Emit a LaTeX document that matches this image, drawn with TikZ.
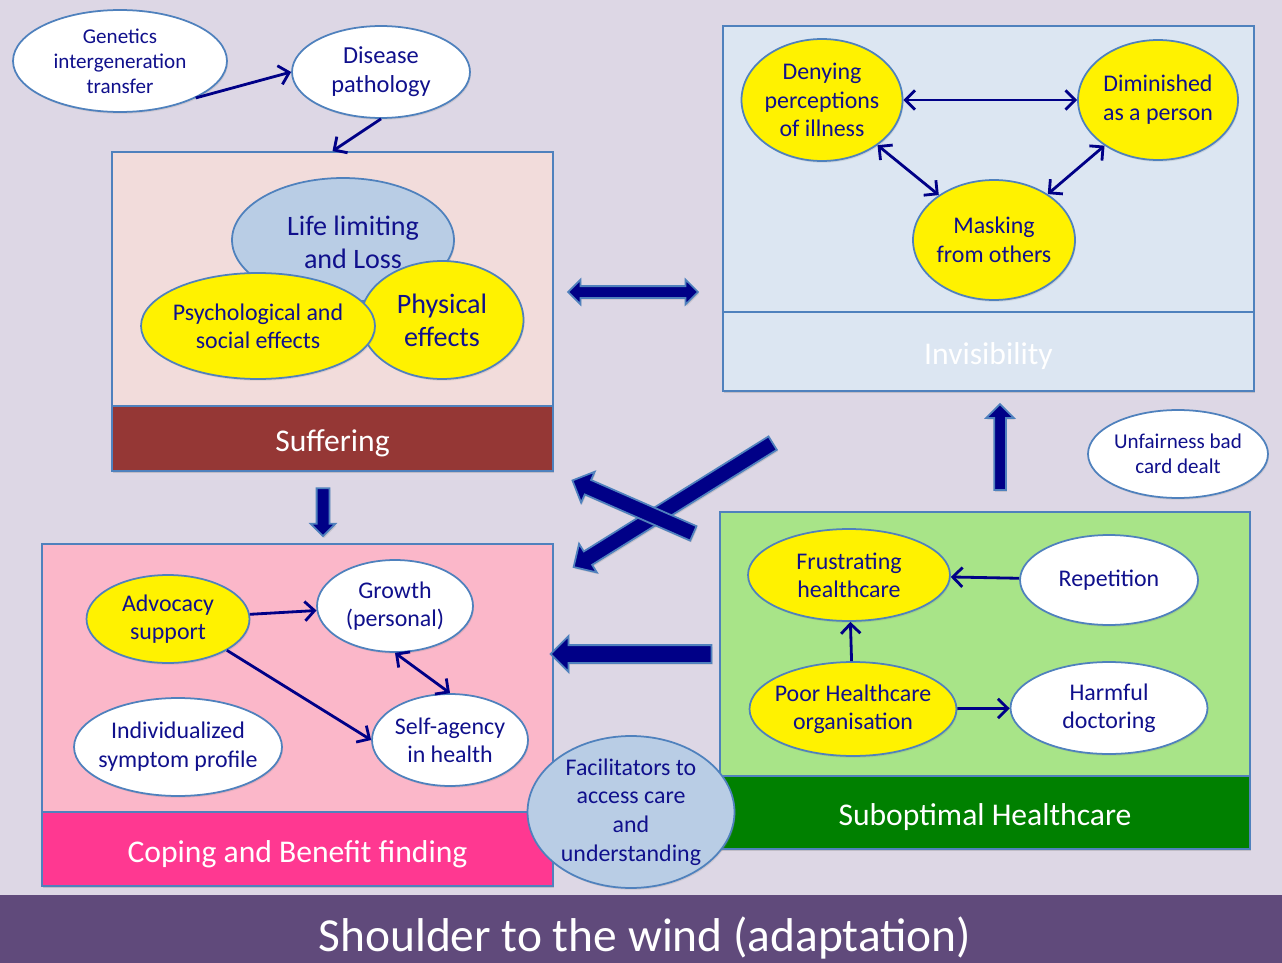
\documentclass[tikz,border=0pt]{standalone}
\usepackage{fontspec}
\setmainfont{Carlito}
\usetikzlibrary{arrows.meta,shapes.geometric,shapes.arrows,shadows}
\definecolor{bgcol}{RGB}{221,215,229}
\definecolor{bannercol}{RGB}{96,74,123}
\definecolor{suffup}{RGB}{242,220,219}
\definecolor{suffdown}{RGB}{149,55,53}
\definecolor{invisfill}{RGB}{220,230,242}
\definecolor{subup}{RGB}{168,228,136}
\definecolor{subdown}{RGB}{0,128,0}
\definecolor{copeup}{RGB}{251,183,201}
\definecolor{copedown}{RGB}{255,56,145}
\definecolor{edgeblue}{RGB}{79,129,189}
\definecolor{paleblue}{RGB}{185,205,229}
\definecolor{txtblue}{RGB}{16,16,140}
\definecolor{arrowblue}{RGB}{0,0,135}
\newcommand\fsz[2]{\fontsize{#1}{#2}\selectfont}
\tikzset{
    panel/.style = {rectangle, draw=edgeblue, line width=1pt, inner sep=0pt,
        drop shadow={shadow xshift=0.8pt, shadow yshift=-1.4pt, opacity=0.3}},
    bartext/.style = {text=white, font=\fsz{18}{21}, yshift=-0.1cm},
    bubble/.style = {ellipse, draw=edgeblue, line width=1pt, inner sep=0pt,
        drop shadow={shadow xshift=0.6pt, shadow yshift=-1pt, opacity=0.2}},
    bubtext/.style = {text=txtblue, align=center, inner sep=0pt},
    link/.style = {draw=arrowblue, line width=1.6pt, -{Straight Barb[length=5.5pt,width=11pt]}},
    twolink/.style = {draw=arrowblue, line width=1.6pt,
        {Straight Barb[length=5.5pt,width=11pt]}-{Straight Barb[length=5.5pt,width=11pt]}},
    blockarrow/.style = {single arrow, draw=edgeblue, fill=arrowblue, line width=1pt,
        inner xsep=0pt, minimum width=0pt,
        drop shadow={shadow xshift=0.6pt, shadow yshift=-1pt, opacity=0.25}},
}
\begin{document}
\begin{tikzpicture}[x=0.02cm, y=-0.02cm]
    \useasboundingbox (0,0) rectangle (1282,963);
    \fill[bgcol] (0,0) rectangle (1282,963);
    \fill[bannercol] (0,895) rectangle (1282,963);
    \node[text=white, font=\fsz{27}{32}] (title) at (645,938) {Shoulder to the wind (adaptation)};

    % four panels
    \node[panel, fill=suffup, minimum width=8.82cm, minimum height=5.08cm] (suff) at (332.5,279) {};
    \node[panel, fill=suffdown, minimum width=8.82cm, minimum height=1.3cm,
        label={[bartext]center:Suffering}] (suffbar) at (332.5,438.5) {};
    \node[panel, fill=invisfill, minimum width=10.62cm, minimum height=5.72cm] (invis) at (988.5,169) {};
    \node[panel, fill=invisfill, minimum width=10.62cm, minimum height=1.58cm,
        label={[bartext]center:Invisibility}] (invisbar) at (988.5,351.5) {};
    \node[panel, fill=copeup, minimum width=10.22cm, minimum height=5.36cm] (cope) at (297.5,678) {};
    \node[panel, fill=copedown, minimum width=10.22cm, minimum height=1.48cm,
        label={[bartext]center:Coping and Benefit finding}] (copebar) at (297.5,849) {};
    \node[panel, fill=subup, minimum width=10.6cm, minimum height=5.28cm] (subopt) at (985,644) {};
    \node[panel, fill=subdown, minimum width=10.6cm, minimum height=1.46cm,
        label={[bartext]center:Suboptimal Healthcare}] (suboptbar) at (985,812.5) {};

    % causes at the top left
    \node[bubble, fill=white, minimum width=4.28cm, minimum height=2.04cm,
        label={[bubtext, font=\fsz{12}{14.2}]center:Genetics\\intergeneration\\transfer}] (gen) at (120,61) {};
    \node[bubble, fill=white, minimum width=3.56cm, minimum height=1.84cm,
        label={[bubtext, font=\fsz{13.9}{16.4}]center:Disease\\pathology}] (dis) at (381,72) {};
    \draw[link] (gen.-26) -- (dis.west);
    \draw[link] (dis.south) -- (suff.north);

    % suffering
    \node[bubble, fill=paleblue, minimum width=4.44cm, minimum height=2.48cm,
        label={[bubtext, font=\fsz{16}{18.7}, xshift=0.2cm, yshift=-0.04cm]center:Life limiting\\and Loss}] (life) at (343,240) {};
    \node[bubble, fill=yellow, minimum width=3.26cm, minimum height=2.36cm,
        label={[bubtext, font=\fsz{16}{18.7}]center:Physical\\effects}] (phys) at (442,320) {};
    \node[bubble, fill=yellow, minimum width=4.68cm, minimum height=2.12cm,
        label={[bubtext, font=\fsz{13.6}{15.9}]center:Psychological and\\social effects}] (psych) at (258,326) {};

    % invisibility
    \node[bubble, fill=yellow, minimum width=3.22cm, minimum height=2.44cm,
        label={[bubtext, font=\fsz{13.6}{16.4}]center:Denying\\perceptions\\of illness}] (deny) at (822,100) {};
    \node[bubble, fill=yellow, minimum width=3.2cm, minimum height=2.4cm,
        label={[bubtext, font=\fsz{13.6}{16.4}]center:Diminished\\as a person}] (dimin) at (1158,100) {};
    \node[bubble, fill=yellow, minimum width=3.24cm, minimum height=2.4cm,
        label={[bubtext, font=\fsz{13.6}{16.4}]center:Masking\\from others}] (mask) at (994,240) {};
    \draw[twolink] (deny) -- (dimin);
    \draw[twolink] (deny) -- (mask);
    \draw[twolink] (dimin) -- (mask);

    \node[bubble, fill=white, minimum width=3.6cm, minimum height=1.76cm,
        label={[bubtext, font=\fsz{12}{14.2}]center:Unfairness bad\\card dealt}] (unfair) at (1178,454) {};

    % suboptimal healthcare
    \node[bubble, fill=yellow, minimum width=4.04cm, minimum height=1.84cm,
        label={[bubtext, font=\fsz{13.6}{15.9}]center:Frustrating\\healthcare}] (frust) at (849,575) {};
    \node[bubble, fill=white, minimum width=3.56cm, minimum height=1.8cm,
        label={[bubtext, font=\fsz{13.6}{15.9}]center:Repetition}] (repet) at (1109,580) {};
    \node[bubble, fill=yellow, minimum width=4.14cm, minimum height=1.88cm,
        label={[bubtext, font=\fsz{13.6}{15.9}]center:Poor Healthcare\\organisation}] (poor) at (853,709) {};
    \node[bubble, fill=white, minimum width=3.94cm, minimum height=1.84cm,
        label={[bubtext, font=\fsz{13.6}{15.9}]center:Harmful\\doctoring}] (harm) at (1109,708) {};
    \draw[link] (repet) -- (frust);
    \draw[link] (poor) -- (frust);
    \draw[link] (poor) -- (harm);

    % coping
    \node[bubble, fill=yellow, minimum width=3.26cm, minimum height=1.76cm,
        label={[bubtext, font=\fsz{13.6}{15.9}]center:Advocacy\\support}] (advoc) at (168,619) {};
    \node[bubble, fill=white, minimum width=3.12cm, minimum height=1.84cm,
        label={[bubtext, font=\fsz{13.6}{15.9}]center:Growth\\(personal)}] (growth) at (395,606) {};
    \node[bubble, fill=white, minimum width=4.16cm, minimum height=1.96cm,
        label={[bubtext, font=\fsz{13.6}{16.4}]center:Individualized\\symptom profile}] (indiv) at (178,747) {};
    \node[bubble, fill=white, minimum width=3.12cm, minimum height=1.84cm,
        label={[bubtext, font=\fsz{13.6}{15.9}]center:Self-agency\\in health}] (selfag) at (450,740) {};
    \draw[link] (advoc) -- (growth);
    \draw[link] (advoc.-28) -- (selfag.west);
    \draw[twolink] (growth.south) -- (selfag.north);

    % block arrows between the panels
    \node[blockarrow, double arrow, inner ysep=0.1cm, double arrow head extend=0.13cm, minimum height=2.6cm] (bothways) at (633,292) {};
    \node[blockarrow, inner ysep=0.1cm, single arrow head extend=0.16cm, minimum height=1.72cm, rotate=90] (upshift) at (1000,450) {};
    \node[blockarrow, inner ysep=0.11cm, single arrow head extend=0.12cm, minimum height=0.96cm, rotate=-90] (downshift) at (323,509) {};
    \node[blockarrow, inner ysep=0.16cm, single arrow head extend=0.18cm, minimum height=3.22cm, rotate=180] (leftshift) at (635.5,654) {};
    \node[blockarrow, inner ysep=0.14cm, single arrow head extend=0.18cm, minimum height=4.69cm, rotate=211.9] (crossa) at (676.5,503) {};
    \node[blockarrow, inner ysep=0.14cm, single arrow head extend=0.18cm, minimum height=2.64cm, rotate=156.35] (crossb) at (636.5,508.5) {};

    \node[bubble, fill=paleblue, minimum width=4.14cm, minimum height=3.04cm,
        label={[bubtext, font=\fsz{13.6}{16.4}]center:Facilitators to\\access care\\and\\understanding}] (facil) at (631,812) {};
\end{tikzpicture}
\end{document}
